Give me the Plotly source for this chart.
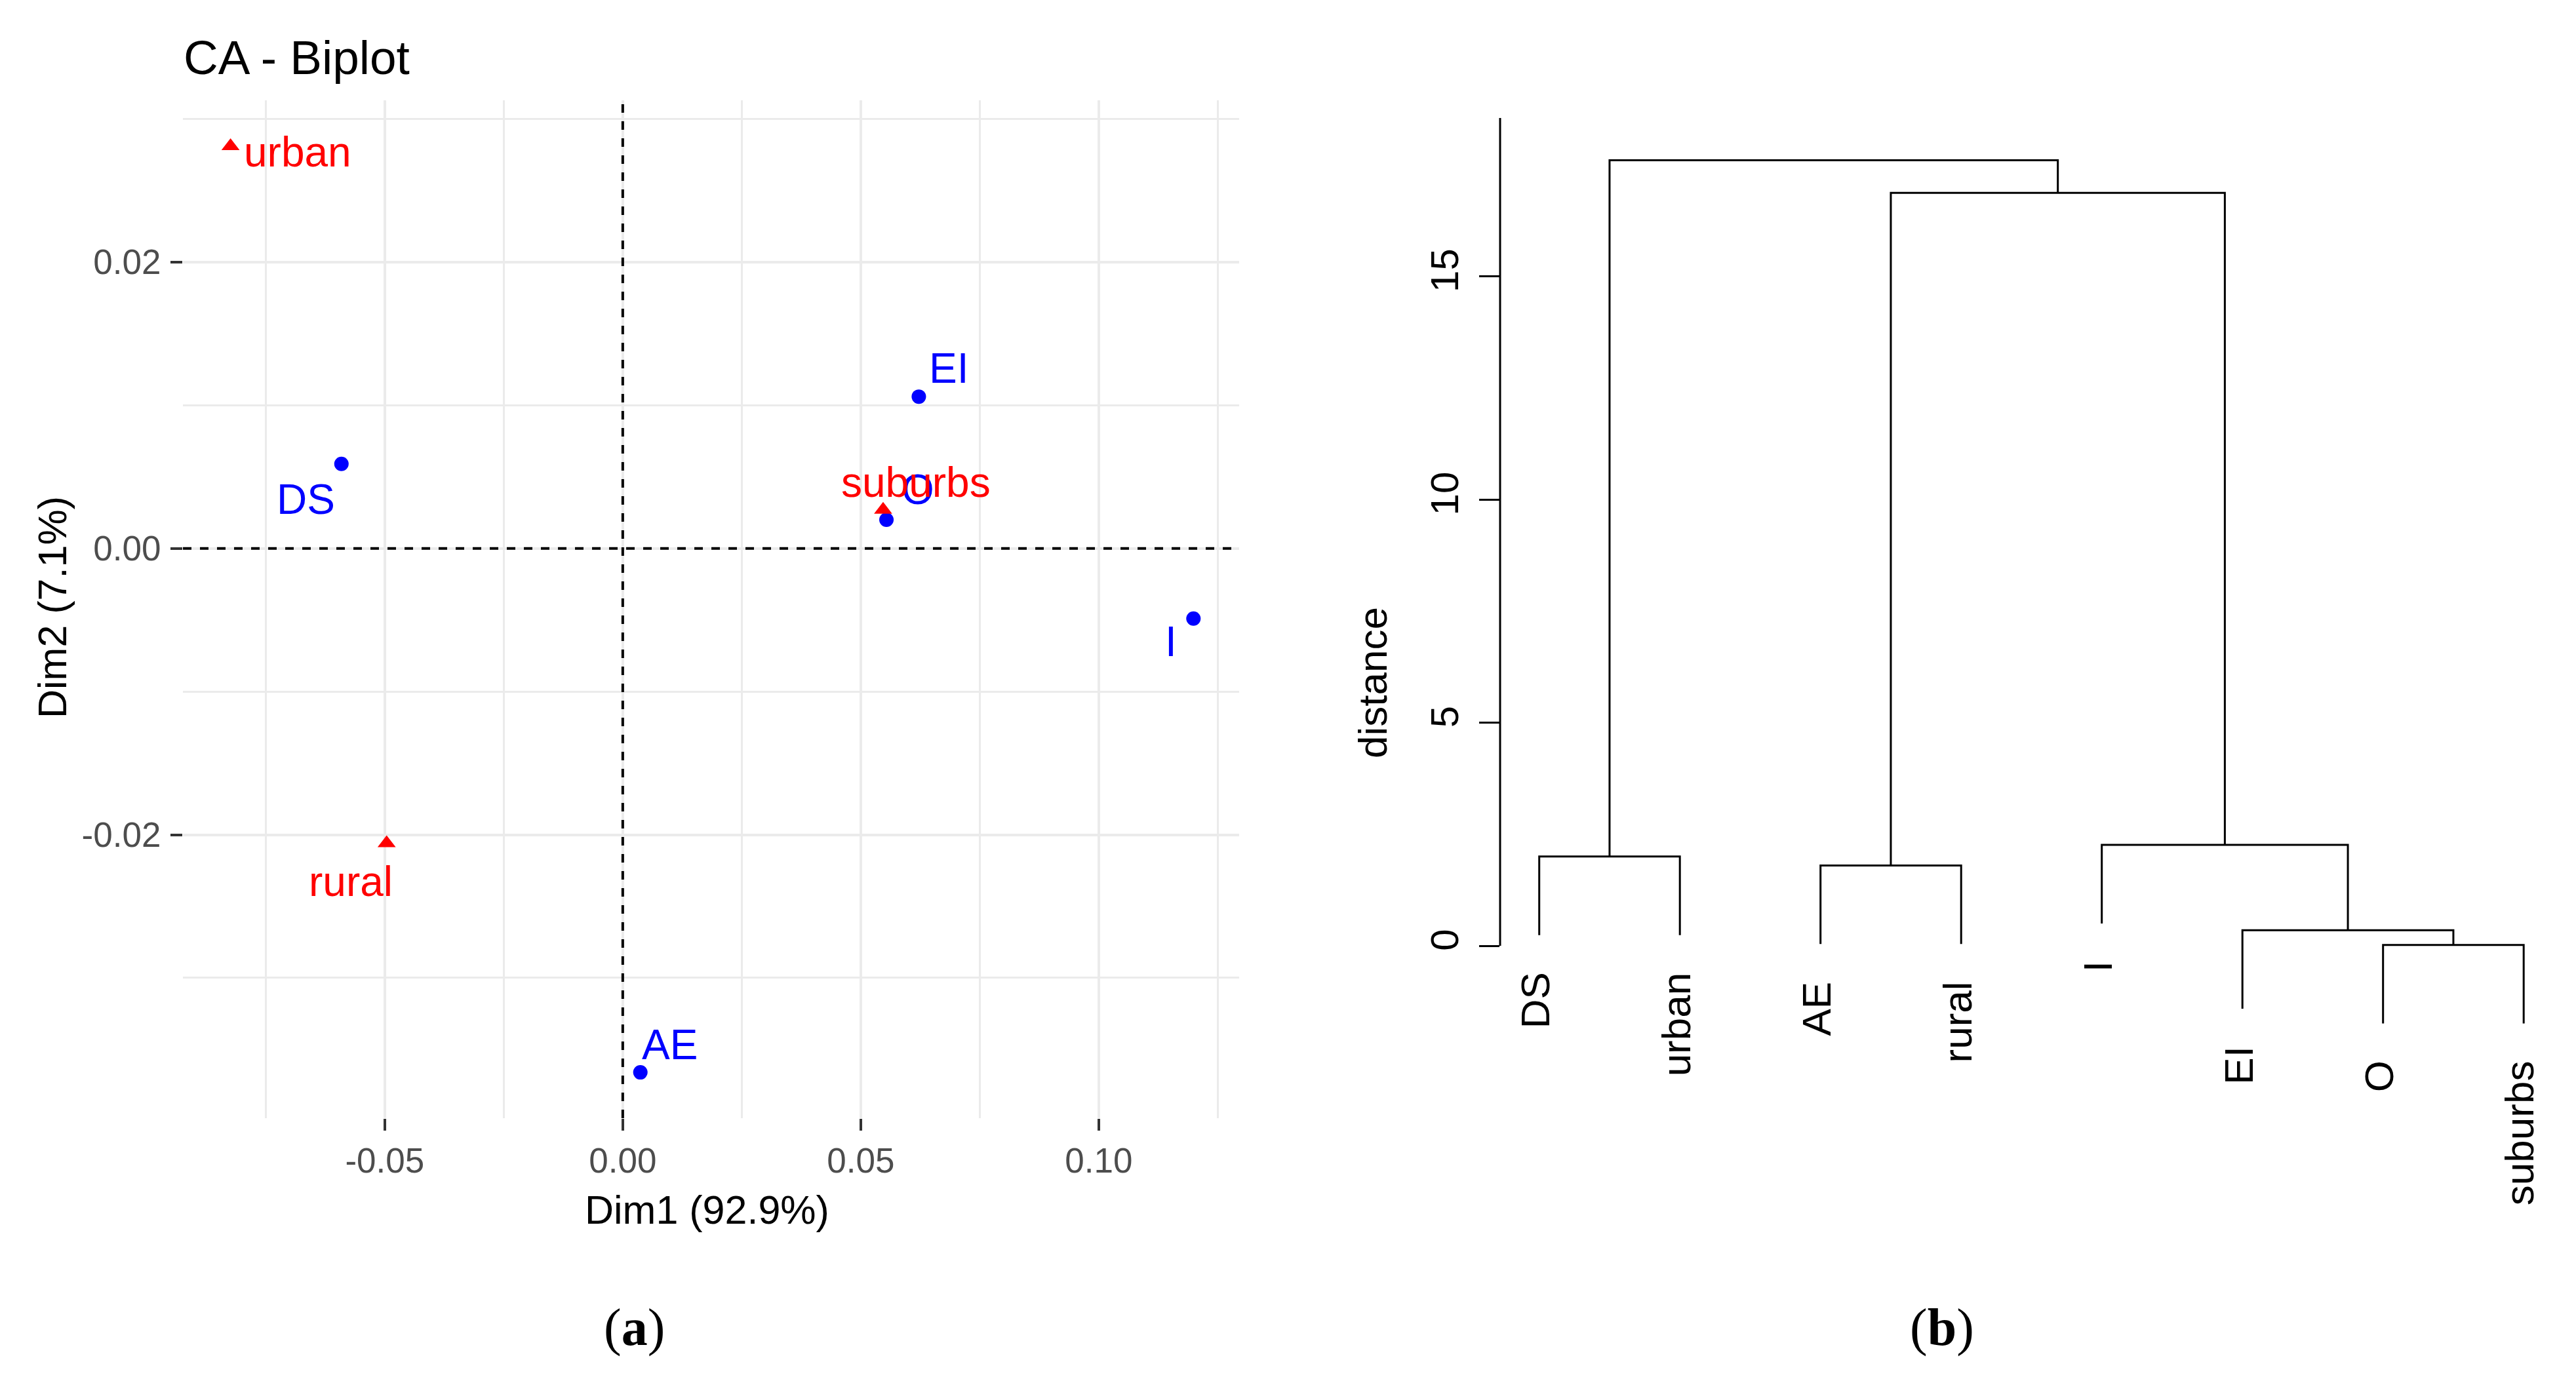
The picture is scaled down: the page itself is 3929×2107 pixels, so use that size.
import plotly.graph_objects as go

# ---------------- data ----------------
# CA biplot: row points (blue) and column points (red)
row_names = ["DS", "EI", "O", "I", "AE"]
row_dim1 = [-0.0591, 0.0622, 0.0554, 0.1199, 0.0037]
row_dim2 = [0.0059, 0.0106, 0.0020, -0.0049, -0.0366]

col_names = ["urban", "suburbs", "rural"]
col_dim1 = [-0.0824, 0.0547, -0.0496]
col_dim2 = [0.0281, 0.0027, -0.0206]

x_tick_vals = [-0.05, 0.00, 0.05, 0.10]
x_tick_text = ["-0.05", "0.00", "0.05", "0.10"]
y_tick_vals = [-0.02, 0.00, 0.02]
y_tick_text = ["-0.02", "0.00", "0.02"]

# Dendrogram (leaf order left to right) and merges (negative = leaf index, positive = merge no.)
leaf_labels = ["DS", "urban", "AE", "rural", "I", "EI", "O", "suburbs"]
merge_left = [-7, -6, -3, -1, -5, 3, 4]
merge_right = [-8, 1, -4, -2, 2, 5, 6]
merge_height = [0.02, 0.35, 1.80, 2.00, 2.26, 16.87, 17.60]
dist_ticks = [0, 5, 10, 15]

# ---------------- layout helpers (page pixels -> paper) ----------------
W, H = 3929, 2107
OFF = 8                      # default page body margin
FW, FH = W - 2 * OFF, H - 2 * OFF


def px(p):
    return (p - OFF) / FW


def py(p):
    return 1 - (p - OFF) / FH


FONT = "Liberation Sans, Arial, sans-serif"

# label offsets (screen px: dx right, dy down) for repelled labels
row_label_off = [(-54, 54), (46, -43), (48, -46), (-34, 35), (45, -42)]
col_label_off = [(102, 9), (50, -42), (-55, 58)]

fig = go.Figure()

# ---------- panel (a): CA biplot ----------
L_left, L_right, L_top, L_bottom = 279, 1890, 153, 1706
xr = [-0.0924, 0.1295]
yr = [-0.0398, 0.0313]

fig.add_trace(go.Scatter(
    x=row_dim1, y=row_dim2, mode="markers",
    marker=dict(symbol="circle", size=22, color="#0000FF"),
    xaxis="x", yaxis="y", showlegend=False, hoverinfo="skip"))
fig.add_trace(go.Scatter(
    x=col_dim1, y=col_dim2, mode="markers",
    marker=dict(symbol="triangle-up", size=24, color="#FF0000"),
    xaxis="x", yaxis="y", showlegend=False, hoverinfo="skip"))

annotations = []
for name, xv, yv, (dx, dy) in zip(row_names, row_dim1, row_dim2, row_label_off):
    annotations.append(dict(x=xv, y=yv, xref="x", yref="y", text=name, showarrow=False,
                            xshift=dx, yshift=-dy, xanchor="center", yanchor="middle",
                            font=dict(family=FONT, size=64, color="#0000FF")))
for name, xv, yv, (dx, dy) in zip(col_names, col_dim1, col_dim2, col_label_off):
    annotations.append(dict(x=xv, y=yv, xref="x", yref="y", text=name, showarrow=False,
                            xshift=dx, yshift=-dy, xanchor="center", yanchor="middle",
                            font=dict(family=FONT, size=64, color="#FF0000")))

# title and axis titles
annotations.append(dict(x=px(278), y=py(88), xref="paper", yref="paper", text="CA - Biplot",
                        showarrow=False, xanchor="left", yanchor="middle",
                        font=dict(family=FONT, size=73, color="black")))
annotations.append(dict(x=px((L_left + L_right) / 2 - 6), y=py(1846), xref="paper", yref="paper",
                        text="Dim1 (92.9%)", showarrow=False, xanchor="center", yanchor="middle",
                        font=dict(family=FONT, size=61, color="black")))
annotations.append(dict(x=px(80), y=py(927), xref="paper", yref="paper",
                        text="Dim2 (7.1%)", showarrow=False, xanchor="center", yanchor="middle",
                        textangle=-90, font=dict(family=FONT, size=61, color="black")))

shapes = [
    dict(type="line", xref="x", yref="y domain", x0=0, x1=0, y0=0, y1=1,
         line=dict(color="black", width=4, dash="13px,13px")),
    dict(type="line", xref="x domain", yref="y", x0=0, x1=1, y0=0, y1=0,
         line=dict(color="black", width=4, dash="13px,13px")),
]

# ---------- panel (b): dendrogram ----------
R_left, R_right, R_top, R_bottom = 2288, 3915, 180, 1700
leaf_step = 214.5
leaf1_px = 2347.7
x2r = [1 - (leaf1_px - R_left) / leaf_step,
       len(leaf_labels) + (R_right - (leaf1_px + (len(leaf_labels) - 1) * leaf_step)) / leaf_step]
unit_px = 68.1
zero_px = 1443
y2r = [-(R_bottom - zero_px) / unit_px, (zero_px - R_top) / unit_px]

hang = 0.1 * max(merge_height)
node_x, node_h = {}, {}
seg_x, seg_y = [], []
leaf_end = {}


def child_info(c, parent_h):
    if c < 0:
        i = -c - 1
        xv = i + 1
        bottom = parent_h - hang
        leaf_end[i] = bottom
        return xv, bottom
    return node_x[c], node_h[c]


for k, (a, b, h) in enumerate(zip(merge_left, merge_right, merge_height), start=1):
    xa, ha = child_info(a, h)
    xb, hb = child_info(b, h)
    seg_x += [xa, xa, xb, xb, None]
    seg_y += [ha, h, h, hb, None]
    node_x[k] = (xa + xb) / 2
    node_h[k] = h

fig.add_trace(go.Scatter(x=seg_x, y=seg_y, mode="lines", line=dict(color="black", width=3),
                         xaxis="x2", yaxis="y2", showlegend=False, hoverinfo="skip"))

for i, lab in enumerate(leaf_labels):
    annotations.append(dict(x=i + 1, y=leaf_end[i], xref="x2", yref="y2", text=lab,
                            showarrow=False, textangle=-90, xanchor="center", yanchor="top",
                            xshift=-6, yshift=-55,
                            font=dict(family=FONT, size=62, color="black")))

annotations.append(dict(x=px(2093), y=py(1042), xref="paper", yref="paper", text="distance",
                        showarrow=False, textangle=-90, xanchor="center", yanchor="middle",
                        font=dict(family=FONT, size=62, color="black")))

shapes.append(dict(type="line", xref="x2 domain", yref="y2", x0=0, x1=0, y0=0, y1=y2r[1],
                   line=dict(color="black", width=3)))

# captions
annotations.append(dict(x=px(967), y=py(2025), xref="paper", yref="paper", text="(<b>a</b>)",
                        showarrow=False, xanchor="center", yanchor="middle",
                        font=dict(family="Liberation Serif, Times New Roman, serif", size=80, color="black")))
annotations.append(dict(x=px(2962), y=py(2025), xref="paper", yref="paper", text="(<b>b</b>)",
                        showarrow=False, xanchor="center", yanchor="middle",
                        font=dict(family="Liberation Serif, Times New Roman, serif", size=80, color="black")))

grid_col = "#EBEBEB"
fig.update_layout(
    width=FW, height=FH,
    margin=dict(l=0, r=0, t=0, b=0),
    paper_bgcolor="white", plot_bgcolor="white",
    showlegend=False,
    xaxis=dict(domain=[px(L_left), px(L_right)], range=xr, tickvals=x_tick_vals, ticktext=x_tick_text,
               showgrid=True, gridcolor=grid_col, gridwidth=3.5, zeroline=False, showline=False,
               ticks="outside", ticklen=18, tickwidth=4, tickcolor="#333333",
               tickfont=dict(family=FONT, size=53, color="#4D4D4D"),
               minor=dict(dtick=0.025, tick0=0, showgrid=True, gridcolor=grid_col, gridwidth=3, ticks=""),
               anchor="y", fixedrange=True),
    yaxis=dict(domain=[py(L_bottom), py(L_top)], range=yr, tickvals=y_tick_vals, ticktext=y_tick_text,
               showgrid=True, gridcolor=grid_col, gridwidth=3.5, zeroline=False, showline=False,
               ticks="outside", ticklen=18, tickwidth=4, tickcolor="#333333",
               tickfont=dict(family=FONT, size=53, color="#4D4D4D"),
               minor=dict(dtick=0.01, tick0=0, showgrid=True, gridcolor=grid_col, gridwidth=3, ticks=""),
               ticklabelstandoff=4,
               anchor="x", fixedrange=True),
    xaxis2=dict(domain=[px(R_left), px(R_right)], range=x2r, showgrid=False, zeroline=False,
                showline=False, showticklabels=False, ticks="", anchor="y2", fixedrange=True),
    yaxis2=dict(domain=[py(R_bottom), py(R_top)], range=y2r, tickvals=dist_ticks,
                ticktext=[str(t) for t in dist_ticks],
                showgrid=False, zeroline=False, showline=False,
                ticks="outside", ticklen=31, tickwidth=3, tickcolor="black", tickangle=-90,
                tickfont=dict(family=FONT, size=60, color="black"),
                ticklabelstandoff=8,
                anchor="x2", fixedrange=True),
    annotations=annotations,
    shapes=shapes,
)

fig.write_html("out.html")
